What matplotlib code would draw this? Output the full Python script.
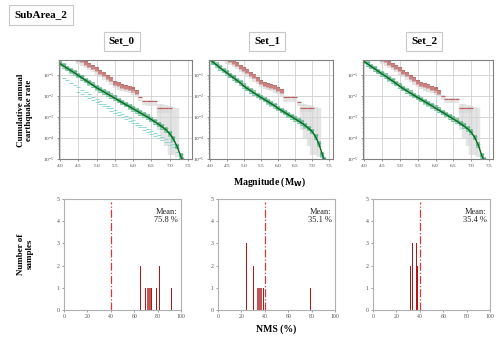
import numpy as np
import matplotlib
matplotlib.use('Agg')
import matplotlib.pyplot as plt

plt.rcParams['font.family'] = ['Liberation Serif', 'DejaVu Serif']

W, H = 500, 340

# magnitude bins
mags = [4.0, 4.1, 4.2, 4.3, 4.4, 4.5, 4.6, 4.7, 4.8, 4.9, 5.0, 5.1, 5.2, 5.3, 5.4, 5.5, 5.6,
        5.7, 5.8, 5.9, 6.0, 6.1, 6.2, 6.3, 6.4, 6.5, 6.6, 6.7, 6.8, 6.9, 7.0, 7.1, 7.2, 7.3, 7.35]

# log10 of the mean modelled MFD for each set
green_0 = [-0.48, -0.59, -0.70, -0.81, -0.92, -1.04, -1.15, -1.27, -1.38, -1.50, -1.62, -1.72,
           -1.82, -1.92, -2.02, -2.12, -2.22, -2.32, -2.42, -2.52, -2.62, -2.72, -2.82, -2.92,
           -3.02, -3.13, -3.24, -3.36, -3.48, -3.62, -3.80, -4.05, -4.40, -4.85, -5.05]
green_1 = [-0.28, -0.42, -0.55, -0.68, -0.80, -0.92, -1.04, -1.16, -1.28, -1.40, -1.55, -1.66,
           -1.77, -1.88, -1.98, -2.08, -2.18, -2.28, -2.38, -2.48, -2.60, -2.70, -2.80, -2.90,
           -3.00, -3.10, -3.20, -3.30, -3.42, -3.55, -3.70, -3.95, -4.30, -4.80, -5.05]
green_2 = [-0.37, -0.49, -0.61, -0.72, -0.84, -0.96, -1.07, -1.19, -1.30, -1.42, -1.55, -1.66,
           -1.77, -1.88, -1.98, -2.08, -2.18, -2.28, -2.38, -2.48, -2.59, -2.69, -2.79, -2.89,
           -3.00, -3.10, -3.21, -3.32, -3.44, -3.57, -3.73, -3.98, -4.35, -4.85, -5.05]
greens = [green_0, green_1, green_2]

# Set_0 lower branches (dashed cyan)
low_a = [-1.16, -1.27, -1.38, -1.49, -1.60, -1.71, -1.82, -1.93, -2.04, -2.15, -2.26, -2.37,
         -2.47, -2.57, -2.67, -2.77, -2.87, -2.97, -3.07, -3.17, -3.27, -3.37, -3.47, -3.57,
         -3.67, -3.77, -3.87, -3.97, -4.07, -4.18, -4.30, -4.50, -4.80]
low_b = [-1.40, -1.50, -1.60, -1.70, -1.80, -1.90, -2.00, -2.10, -2.20, -2.30, -2.40, -2.50,
         -2.60, -2.70, -2.80, -2.90, -3.00, -3.10, -3.20, -3.30, -3.40, -3.50, -3.60, -3.70,
         -3.80, -3.90, -4.00, -4.10, -4.20, -4.32, -4.45, -4.65, -4.95]

# observed rates (red squares) and their extrapolated part (red dashes)
red_mags = [4.5, 4.6, 4.7, 4.8, 4.9, 5.0, 5.1, 5.2, 5.3, 5.4, 5.5, 5.6, 5.7, 5.8, 5.9, 6.0, 6.1]
red_0 = [-0.25, -0.32, -0.42, -0.52, -0.62, -0.74, -0.86, -0.98, -1.10, -1.22, -1.38, -1.46,
         -1.52, -1.56, -1.62, -1.70, -1.80]
red_1 = [-0.22, -0.30, -0.40, -0.50, -0.61, -0.72, -0.84, -0.96, -1.08, -1.20, -1.33, -1.42,
         -1.48, -1.54, -1.60, -1.68, -1.78]
red_2 = [-0.25, -0.32, -0.42, -0.52, -0.63, -0.74, -0.86, -0.98, -1.10, -1.22, -1.35, -1.44,
         -1.50, -1.55, -1.62, -1.70, -1.82]
reds = [red_0, red_1, red_2]
dash_mags = [6.2, 6.3, 6.4, 6.5, 6.6, 6.7, 6.8, 6.9, 7.0]
dash_0 = [-2.05, -2.25, -2.27, -2.27, -2.27, -2.60, -2.60, -2.60, -2.60]
dash_1 = [-2.08, -2.08, -2.08, -2.08, -2.30, -2.57, -2.57, -2.57, -2.57]
dash_2 = [-2.00, -2.14, -2.14, -2.14, -2.14, -2.60, -2.60, -2.60, -2.60]
dashes = [dash_0, dash_1, dash_2]

# grey uncertainty bands at the largest magnitudes
band_mags = [6.7, 6.8, 6.9, 7.0, 7.1, 7.2]
band_hi = [-2.40, -2.40, -2.45, -2.50, -2.55, -2.60]
band_lo = [-3.60, -4.00, -4.40, -4.80, -4.80, -4.90]

# NMS histograms
nms_0 = [65.5, 70, 71, 72, 73, 74, 75, 79, 81.5, 92]
cnt_0 = [2, 1, 1, 1, 1, 1, 1, 1, 2, 1]
nms_1 = [24.5, 30, 32.5, 33.5, 34.5, 35.5, 36.5, 37.5, 38.8, 79]
cnt_1 = [3, 2, 1, 1, 1, 1, 1, 1, 1, 1]
nms_2 = [32, 34, 37.3, 38]
cnt_2 = [2, 3, 3, 2]
nms_sets = [(nms_0, cnt_0), (nms_1, cnt_1), (nms_2, cnt_2)]
means = ['75.8', '35.1', '35.4']
set_names = ['Set_0', 'Set_1', 'Set_2']

top_px = [(59, 192), (209, 333), (363, 493)]
bot_px = [(64, 181), (218, 335), (373, 490)]


def box(l, r, t, b):
    return [l / W, 1 - b / H, (r - l) / W, (b - t) / H]


fig = plt.figure(figsize=(5, 3.4), dpi=100)

for i in range(3):
    ax = fig.add_axes(box(top_px[i][0], top_px[i][1], 60, 159))
    ax.set_yscale('log')
    g = 10 ** np.array(greens[i])
    r = 10 ** np.array(reds[i])
    d = 10 ** np.array(dashes[i])
    ax.vlines(red_mags, r * 10 ** -0.25, r * 10 ** 0.08, color='#d8d8d8', lw=3.2, alpha=0.7)
    ax.vlines(dash_mags, d * 10 ** -0.2, d * 10 ** 0.05, color='#d8d8d8', lw=3.2, alpha=0.6)
    ax.vlines(band_mags, 10 ** np.array(band_lo), 10 ** np.array(band_hi),
              color='#d5d5d5', lw=3.2, alpha=0.6)
    if i == 0:
        ax.plot(mags[1:34], 10 ** np.array(low_a), ls='none', marker='_', ms=3,
                mew=0.7, color='#8fd8d0')
        ax.plot(mags[5:34], 10 ** np.array(low_b[4:]), ls='none', marker='_', ms=3,
                mew=0.7, color='#8fd8d0')
    ax.plot(mags, g * 10 ** 0.08, ls='none', marker='_', ms=3, mew=0.7, color='#7ed6c6')
    ax.plot(mags, g * 10 ** -0.08, ls='none', marker='_', ms=3, mew=0.7, color='#7ed6c6')
    ax.plot(mags, g * 10 ** 0.04, ls='none', marker='s', ms=2.5, mew=0,
            color='#3a9a6a', alpha=0.55)
    ax.plot(mags, g * 10 ** -0.04, ls='none', marker='s', ms=2.5, mew=0,
            color='#5fb890', alpha=0.5)
    ax.plot(mags, g, color='#0b6b1b', lw=1.0)
    ax.plot(red_mags, r, ls='none', marker='s', ms=2.5, mew=0, color='#b04848', alpha=0.75)
    ax.plot(red_mags, r * 10 ** -0.05, ls='none', marker='s', ms=2.5, mew=0,
            color='#d09090', alpha=0.6)
    ax.plot(dash_mags, d, ls='none', marker='_', ms=3, mew=0.8, color='#c06060')
    ax.set_xlim(3.97, 7.61)
    ax.set_ylim(1e-5, 5e-1)
    ax.set_xticks([4.0, 4.5, 5.0, 5.5, 6.0, 6.5, 7.0, 7.5])
    ax.set_xticklabels(['4.0', '4.5', '5.0', '5.5', '6.0', '6.5', '7.0', '7.5'])
    ax.set_yticks([1e-5, 1e-4, 1e-3, 1e-2, 1e-1])
    ax.grid(True, which='major', color='#d0d0d0', lw=0.6)
    ax.tick_params(labelsize=3.8, length=1.5, width=0.4, pad=2, colors='#444444')
    ax.tick_params(which='minor', length=0.6, width=0.3)
    for s in ax.spines.values():
        s.set_color('#808080')
        s.set_linewidth(0.8)

    bx = fig.add_axes(box(bot_px[i][0], bot_px[i][1], 199, 310))
    pos, cnt = nms_sets[i]
    for p, c in zip(pos, cnt):
        col = '#b01818' if c != 1 or p in (79, 92, 38.8, 75, 70) else '#c05858'
        bx.bar(p, c, width=0.75, color=col, linewidth=0)
    bx.vlines(40, 0, 4.85, color='#d03a3a', lw=0.9, linestyles='dashdot')
    bx.text(0.97, 0.92, 'Mean:\n' + means[i] + ' %', transform=bx.transAxes,
            ha='right', va='top', fontsize=6, color='#222222', linespacing=1.0)
    bx.set_xlim(0, 100)
    bx.set_ylim(0, 5)
    bx.set_xticks([0, 20, 40, 60, 80, 100])
    bx.set_yticks([0, 1, 2, 3, 4, 5])
    bx.tick_params(labelsize=4.2, length=1.2, width=0.4, pad=2, colors='#555555')
    for s in bx.spines.values():
        s.set_color('#b0b0b0')
        s.set_linewidth(0.8)

    cx = (top_px[i][0] + top_px[i][1]) / 2 - 4
    fig.text(cx / W, 1 - 41 / H, set_names[i], ha='center', va='center', fontsize=8,
             fontweight='bold',
             bbox=dict(boxstyle='square,pad=0.45', fc='white', ec='#c8c8c8', lw=0.8))

fig.text(41 / W, 1 - 15 / H, 'SubArea_2', ha='center', va='center', fontsize=8,
         fontweight='bold',
         bbox=dict(boxstyle='square,pad=0.5', fc='white', ec='#c8c8c8', lw=0.8))
fig.text(25 / W, 1 - 110 / H, 'Cumulative annual\nearthquake rate', rotation=90,
         ha='center', va='center', fontsize=6.5, fontweight='bold', linespacing=1.1)
fig.text(25 / W, 1 - 254 / H, 'Number of\nsamples', rotation=90,
         ha='center', va='center', fontsize=6.5, fontweight='bold', linespacing=1.1)
fig.text(270 / W, 1 - 182 / H, 'Magnitude (M$_\\mathbf{W}$)', ha='center', va='center',
         fontsize=7, fontweight='bold')
fig.text(276 / W, 1 - 329 / H, 'NMS (%)', ha='center', va='center',
         fontsize=7, fontweight='bold')

fig.savefig('out.png', dpi=100)
